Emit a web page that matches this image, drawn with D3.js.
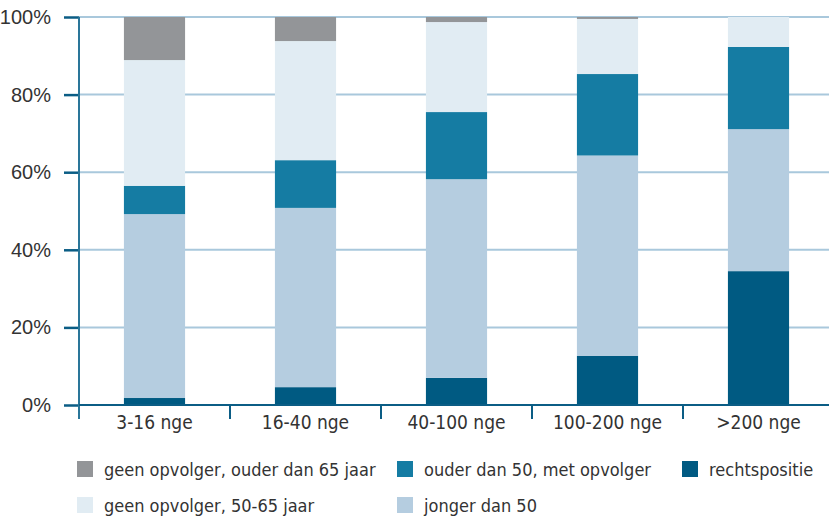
<!DOCTYPE html>
<html>
<head>
<meta charset="utf-8">
<script src="https://cdn.jsdelivr.net/npm/d3@7/dist/d3.min.js"></script>
<style>
  html, body { margin: 0; padding: 0; background: #fff; }
  svg { display: block; font-family: "Liberation Sans Narrow", "DejaVu Sans Condensed", "Liberation Sans", sans-serif; }
</style>
</head>
<body>
<svg id="chart" width="829" height="517"></svg>
<script>
// Farm size classes (nge) and share of each succession situation, in %
const categories = ["3-16 nge", "16-40 nge", "40-100 nge", "100-200 nge", ">200 nge"];
const rechtspositie    = [1.8, 4.6, 7.0, 12.7, 34.5];
const jongerDan50      = [47.4, 46.2, 51.2, 51.6, 36.6];
const ouderMetOpvolger = [7.3, 12.3, 17.3, 21.0, 21.2];
const geenOpv5065      = [32.4, 30.7, 23.2, 14.2, 7.7];
const geenOpv65        = [11.1, 6.2, 1.3, 0.5, 0.0];
const yTicks = [0, 20, 40, 60, 80, 100];

const seriesDefs = [
  { key: "rechts", label: "rechtspositie", values: rechtspositie, color: "#005a82" },
  { key: "jonger", label: "jonger dan 50", values: jongerDan50, color: "#b5cde0" },
  { key: "ouder", label: "ouder dan 50, met opvolger", values: ouderMetOpvolger, color: "#157ca3" },
  { key: "geen5065", label: "geen opvolger, 50-65 jaar", values: geenOpv5065, color: "#e1ecf3" },
  { key: "geen65", label: "geen opvolger, ouder dan 65 jaar", values: geenOpv65, color: "#939598" }
];

const rows = categories.map((c, i) => {
  const r = { cat: c };
  seriesDefs.forEach(s => { r[s.key] = s.values[i]; });
  return r;
});

const svg = d3.select("#chart");
const plotL = 79, plotR = 834, plotT = 17, plotB = 405;

const x = d3.scaleBand().domain(categories).range([plotL, plotR]).paddingInner(0).paddingOuter(0);
const y = d3.scaleLinear().domain([0, 100]).range([plotB, plotT]);
const barW = x.bandwidth() * 0.405;

// horizontal grid lines
svg.append("g")
  .selectAll("line")
  .data(yTicks.filter(t => t > 0))
  .join("line")
  .attr("x1", plotL).attr("x2", 829)
  .attr("y1", d => y(d)).attr("y2", d => y(d))
  .attr("stroke", "#a9c8dc").attr("stroke-width", 2);

// stacked bars
const stack = d3.stack().keys(seriesDefs.map(s => s.key));
const layers = stack(rows);
svg.append("g")
  .selectAll("g")
  .data(layers)
  .join("g")
  .attr("fill", (d, i) => seriesDefs[i].color)
  .selectAll("rect")
  .data(d => d)
  .join("rect")
  .attr("x", d => x(d.data.cat) + (x.bandwidth() - barW) / 2)
  .attr("width", barW)
  .attr("y", d => y(d[1]))
  .attr("height", d => y(d[0]) - y(d[1]));

// y axis
const yAxis = d3.axisLeft(y).tickValues(yTicks).tickFormat(d => d + "%").tickSize(15).tickPadding(13);
const gy = svg.append("g").attr("transform", `translate(${plotL},0)`).call(yAxis);
gy.select(".domain").remove();
gy.selectAll(".tick line").attr("stroke", "#0b5d85").attr("stroke-width", 2.5);
gy.selectAll(".tick text").attr("fill", "#333").style("font-size", "20px");
svg.append("line")
  .attr("x1", plotL).attr("x2", plotL).attr("y1", plotT).attr("y2", plotB + 14)
  .attr("stroke", "#2a7699").attr("stroke-width", 2);

// x axis
svg.append("line")
  .attr("x1", plotL).attr("x2", 829).attr("y1", plotB).attr("y2", plotB)
  .attr("stroke", "#0b5d85").attr("stroke-width", 2);
svg.append("g")
  .selectAll("line")
  .data(categories.slice(1))
  .join("line")
  .attr("x1", d => x(d)).attr("x2", d => x(d))
  .attr("y1", plotB).attr("y2", plotB + 14)
  .attr("stroke", "#0b5d85").attr("stroke-width", 2);
svg.append("g")
  .selectAll("text")
  .data(categories)
  .join("text")
  .attr("x", d => x(d) + x.bandwidth() / 2)
  .attr("y", plotB + 24)
  .attr("text-anchor", "middle")
  .attr("fill", "#333")
  .style("font-size", "19px")
  .text(d => d);

// legend
const legendItems = [
  { s: seriesDefs[4], x: 77, y: 461 },
  { s: seriesDefs[2], x: 397, y: 461 },
  { s: seriesDefs[0], x: 682, y: 461 },
  { s: seriesDefs[3], x: 77, y: 497 },
  { s: seriesDefs[1], x: 397, y: 497 }
];
const lg = svg.append("g").selectAll("g").data(legendItems).join("g")
  .attr("transform", d => `translate(${d.x},${d.y})`);
lg.append("rect").attr("width", 16).attr("height", 16).attr("fill", d => d.s.color);
lg.append("text")
  .attr("x", 27).attr("y", 15)
  .attr("fill", "#333")
  .style("font-size", "18px")
  .text(d => d.s.label);
</script>
</body>
</html>
